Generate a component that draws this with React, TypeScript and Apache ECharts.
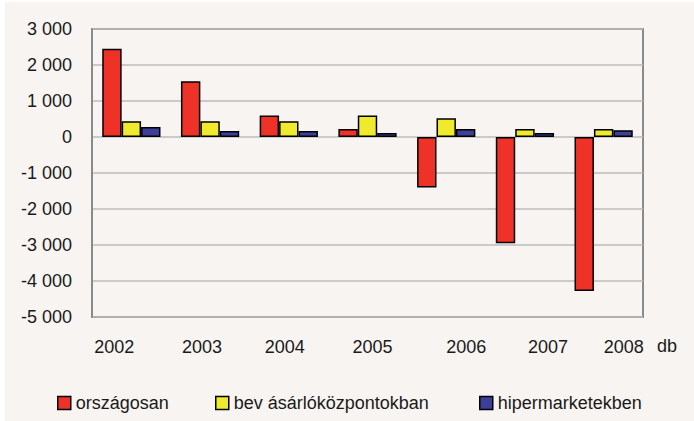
import React, { useEffect, useRef } from "react";
import * as echarts from "echarts";

const categories = ["2002", "2003", "2004", "2005", "2006", "2007", "2008"];
const seriesNames = ["országosan", "bev ásárlóközpontokban", "hipermarketekben"];
const orszagosan = [2450, 1550, 600, 220, -1400, -2950, -4280];
const bevasarlo = [440, 440, 440, 600, 520, 220, 220];
const hiper = [280, 170, 170, 110, 220, 110, 190];
const colors = ["#ee3228", "#f0ea2c", "#3d3f99"];
const yTicks = { min: -5000, max: 3000, interval: 1000 };
// horizontal shift of each year label as placed in the original
const labelShift = [-17, -8, -4, 5, 20, 23, 20];

const fmt = (v: number) => {
  const s = Math.abs(v).toString().replace(/\B(?=(\d{3})+(?!\d))/g, " ");
  return (v < 0 ? "-" : "") + s;
};

export default function App() {
  const ref = useRef<HTMLDivElement>(null);
  useEffect(() => {
    document.body.style.margin = "0";
    const chart = echarts.init(ref.current!, undefined, { renderer: "svg" });
    const font = "Liberation Sans, Arial, sans-serif";
    const fs = 18;
    const data = [orszagosan, bevasarlo, hiper];
    const legendLefts = [52, 210, 474];
    chart.setOption({
      animation: false,
      backgroundColor: "#ffffff",
      textStyle: { fontFamily: font },
      graphic: [
        {
          type: "rect",
          z: -10,
          shape: { x: 5, y: 2, width: 689, height: 419 },
          style: { fill: "#f7f4f1" },
          silent: true,
        },
        {
          type: "text",
          left: 657,
          top: 337,
          style: { text: "db", fontSize: fs, fontFamily: font, fill: "#1a1a1a" },
        },
      ],
      grid: { left: 92, top: 29, width: 551, height: 288, show: true, borderColor: "#8a8a8a", borderWidth: 2, backgroundColor: "transparent" },
      legend: seriesNames.map((n, i) => ({
        left: legendLefts[i],
        top: 389,
        itemWidth: 13,
        itemHeight: 13,
        itemGap: 10,
        icon: "rect",
        itemStyle: { borderColor: "#000", borderWidth: 1.5 },
        textStyle: { fontSize: fs, fontFamily: font, color: "#1a1a1a" },
        data: [n],
      })),
      xAxis: {
        type: "category",
        data: categories.map((c, i) => ({
          value: c,
          textStyle: {
            padding: labelShift[i] >= 0 ? [0, 0, 0, 2 * labelShift[i]] : [0, -2 * labelShift[i], 0, 0],
          },
        })),
        position: "bottom",
        axisLine: { onZero: false, show: false },
        axisTick: { show: false },
        axisLabel: { fontSize: fs, color: "#1a1a1a", margin: 21, fontFamily: font },
      },
      yAxis: {
        type: "value",
        ...yTicks,
        axisLine: { show: true, lineStyle: { color: "#8a8a8a", width: 2 } },
        axisTick: { show: false },
        splitLine: { lineStyle: { color: "#bdbdbd", width: 1.5 } },
        axisLabel: { fontSize: fs, color: "#1a1a1a", margin: 20, formatter: fmt, fontFamily: font },
      },
      series: seriesNames.map((name, i) => ({
        name,
        type: "bar",
        data: data[i],
        barGap: "0%",
        barCategoryGap: "26%",
        itemStyle: { color: colors[i], borderColor: "#000", borderWidth: 1.5 },
      })),
    });
    return () => chart.dispose();
  }, []);
  return <div ref={ref} style={{ position: "absolute", left: 0, top: 0, width: 694, height: 421 }} />;
}
